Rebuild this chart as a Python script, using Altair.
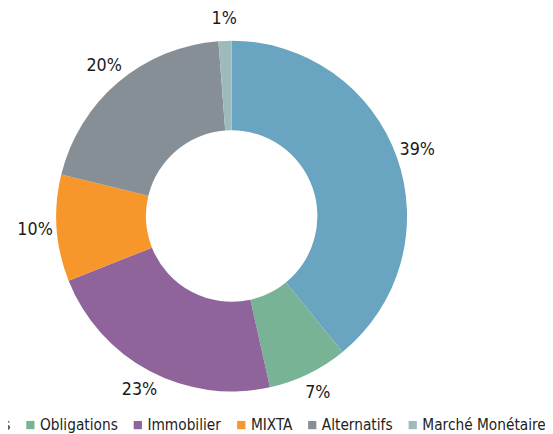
import altair as alt
import pandas as pd

categories = ["Actions", "Obligations", "Immobilier", "MIXTA", "Alternatifs", "Marché Monétaire"]
values = [39.1, 7.4, 22.5, 9.8, 20.0, 1.2]
labels = ["39%", "7%", "23%", "10%", "20%", "1%"]
colors = ["#69A5C0", "#79B395", "#8E649A", "#F7962A", "#868F96", "#9EBBBC"]

df = pd.DataFrame({
    "cat": categories,
    "val": values,
    "label": labels,
    "idx": list(range(len(categories))),
})

cx, cy = 227, 208
FONT = "DejaVu Sans Condensed"

base = alt.Chart(df).encode(
    theta=alt.Theta("val:Q", stack=True),
    order=alt.Order("idx:Q"),
)

arcs = base.mark_arc(innerRadius=87, outerRadius=178).encode(
    x=alt.value(cx),
    y=alt.value(cy),
    color=alt.Color(
        "cat:N",
        scale=alt.Scale(domain=categories, range=colors),
        sort=categories,
        legend=alt.Legend(
            title=None,
            orient="none",
            direction="horizontal",
            legendX=-66,
            legendY=412,
            symbolType="square",
            symbolSize=70,
            symbolStrokeWidth=0,
            labelFont=FONT,
            labelFontSize=15.5,
            labelColor="#222222",
            labelOffset=2,
            columnPadding=12,
            padding=0,
        ),
    ),
)

text = base.mark_text(
    radius=200, font=FONT, fontSize=18, color="#1a1a1a",
    align="center", baseline="middle",
).encode(
    x=alt.value(cx),
    y=alt.value(cy),
    text="label:N",
)

chart = alt.layer(arcs, text).properties(
    width=545, height=426,
    autosize=alt.AutoSizeParams(type="none"),
    padding=0,
).configure_view(stroke=None)

chart.save("out.html", embed_options={"renderer": "svg", "actions": False})
